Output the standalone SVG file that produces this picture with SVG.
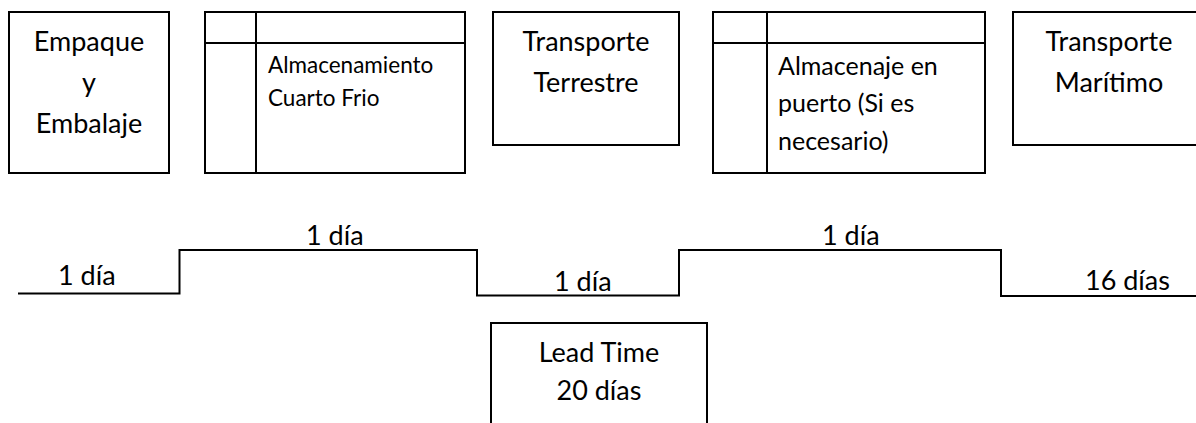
<svg xmlns="http://www.w3.org/2000/svg" width="1196" height="423" viewBox="0 0 1196 423">
<style>
.box{fill:#fff;stroke:#000;stroke-width:2}
.ln{fill:none;stroke:#000;stroke-width:2}
text{font-family:Lato,"Liberation Sans",sans-serif;fill:#000}
.big{font-size:27px}
.mid{font-size:22.5px}
.med{font-size:25px}
.c{text-anchor:middle}
</style>
<rect width="1196" height="423" fill="#fff"/>
<g id="empaque">
<rect class="box" x="9" y="12" width="160" height="161"/>
<text class="big c" x="89" y="50.5">Empaque</text>
<text class="big c" x="89" y="91.5">y</text>
<text class="big c" x="89" y="132.5">Embalaje</text>
</g>
<g id="almacenamiento">
<rect class="box" x="205" y="12" width="260" height="161"/>
<line class="ln" x1="256" y1="12" x2="256" y2="173"/>
<line class="ln" x1="205" y1="43" x2="465" y2="43"/>
<text class="mid" x="268" y="73">Almacenamiento</text>
<text class="mid" x="268" y="106">Cuarto Frio</text>
</g>
<g id="transporte-terrestre">
<rect class="box" x="493" y="12" width="186" height="133"/>
<text class="big c" x="586" y="50.5">Transporte</text>
<text class="big c" x="586" y="91.5">Terrestre</text>
</g>
<g id="almacenaje-puerto">
<rect class="box" x="713" y="12" width="272" height="161"/>
<line class="ln" x1="767" y1="12" x2="767" y2="173"/>
<line class="ln" x1="713" y1="43" x2="985" y2="43"/>
<text class="med" x="778" y="74.5">Almacenaje en</text>
<text class="med" x="778" y="112">puerto (Si es</text>
<text class="med" x="778" y="149.5">necesario)</text>
</g>
<g id="transporte-maritimo">
<rect class="box" x="1013" y="12" width="200" height="133"/>
<text class="big c" x="1109" y="50.5">Transporte</text>
<text class="big c" x="1109" y="91.5">Marítimo</text>
</g>
<g id="connectors">
<path class="ln" d="M18,293.5 H179.5 V250 H477 V295.5 H679 V250 H1001 V296 H1196"/>
</g>
<g id="labels">
<text class="big" x="58" y="285">1 día</text>
<text class="big" x="306" y="245">1 día</text>
<text class="big" x="554" y="291">1 día</text>
<text class="big" x="822" y="245">1 día</text>
<text class="big" x="1085" y="290">16 días</text>
</g>
<g id="lead-time">
<rect class="box" x="491" y="323" width="216" height="110"/>
<text class="big c" x="599" y="362">Lead Time</text>
<text class="big c" x="599" y="400">20 días</text>
</g>
</svg>
